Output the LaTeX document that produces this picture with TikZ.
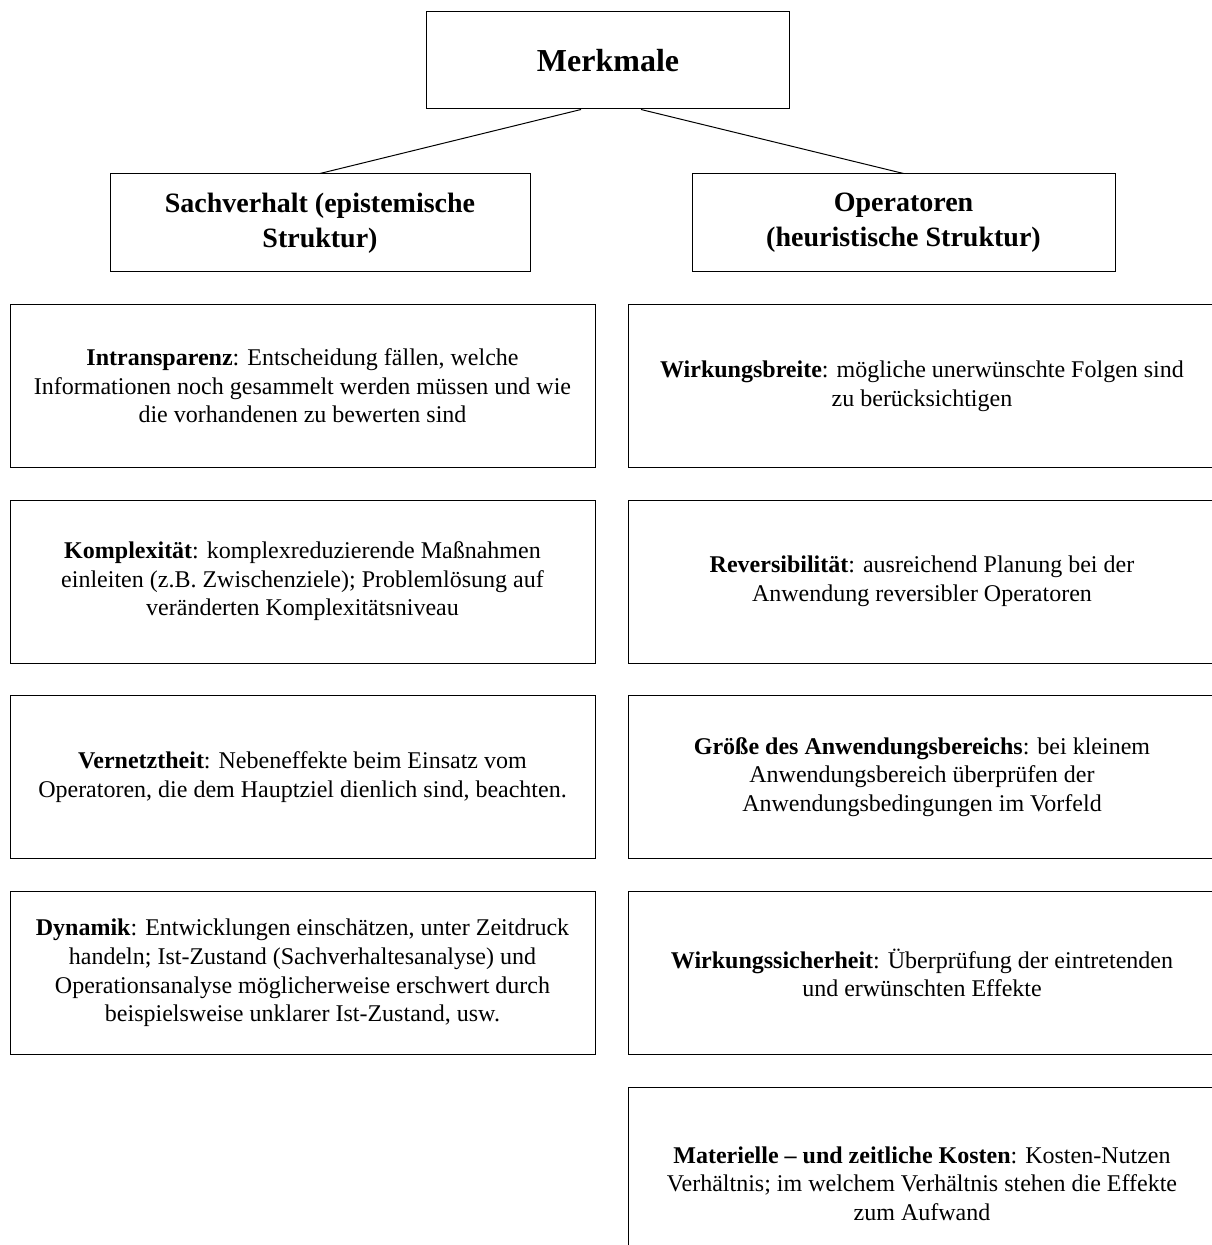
\documentclass[tikz,border=0pt]{standalone}
\usepackage{fontspec}
\setmainfont{Liberation Serif}
\usepackage{tikz}
\usetikzlibrary{positioning}
\tikzset{head/.style={rectangle,draw=black,line width=0.5pt,inner sep=0pt,minimum width=181.75pt,minimum height=48.5pt,font=\fontsize{16}{19}\selectfont\bfseries}}
\tikzset{sub/.style={rectangle,draw=black,line width=0.5pt,inner sep=0pt,align=center,minimum height=49pt,font=\fontsize{14}{17.5}\selectfont\bfseries}}
\tikzset{feat/.style={rectangle,draw=black,line width=0.5pt,inner sep=0pt,align=center,minimum width=292.5pt,minimum height=81.5pt,font=\fontsize{12}{14.3}\selectfont}}

\begin{document}
\begin{tikzpicture}[x=0.5pt,y=-0.5pt]
\useasboundingbox (0,0) rectangle (1211,1245);

 \node[head] (M) at (608, 60.5) {Merkmale};

 \node[sub, minimum width=210pt] (S) at (320, 223) {Sachverhalt (epistemische\\ Struktur)};
 \node[sub, minimum width=211.5pt] (O) at (903.5, 223) {Operatoren\\ (heuristische Struktur)};

 \draw[line width=0.5pt] ([xshift=-13.5pt]M.south) -- (S.north);
 \draw[line width=0.5pt] ([xshift=16.5pt]M.south) -- (O.north);

% left column
 \node[feat] (S1) at (302.5, 386) {\textbf{Intransparenz}: Entscheidung fällen, welche\\ Informationen noch gesammelt werden müssen und wie\\ die vorhandenen zu bewerten sind};
 \node[feat] (S2) at (302.5, 581.5) {\textbf{Komplexität}: komplexreduzierende Maßnahmen\\ einleiten (z.B. Zwischenziele); Problemlösung auf\\ veränderten Komplexitätsniveau};
 \node[feat] (S3) at (302.5, 777) {\textbf{Vernetztheit}: Nebeneffekte beim Einsatz vom\\ Operatoren, die dem Hauptziel dienlich sind, beachten.};
 \node[feat] (S4) at (302.5, 973) {\textbf{Dynamik}: Entwicklungen einschätzen, unter Zeitdruck\\ handeln; Ist-Zustand (Sachverhaltesanalyse) und\\ Operationsanalyse möglicherweise erschwert durch\\ beispielsweise unklarer Ist-Zustand, usw.};

% right column, cut off at the right edge
 \tikzset{feat/.append style={minimum width=294pt}}
 \node[feat] (O1) at (922, 386) {\textbf{Wirkungsbreite}: mögliche unerwünschte Folgen sind\\ zu berücksichtigen};
 \node[feat] (O2) at (922, 581.5) {\textbf{Reversibilität}: ausreichend Planung bei der\\ Anwendung reversibler Operatoren};
 \node[feat] (O3) at (922, 777) {\textbf{Größe des Anwendungsbereichs}: bei kleinem\\ Anwendungsbereich überprüfen der\\ Anwendungsbedingungen im Vorfeld};
 \node[feat] (O4) at (922, 973) {\textbf{Wirkungssicherheit}: Überprüfung der eintretenden\\ und erwünschten Effekte};
 \node[feat, minimum height=96.5pt] (O5) at (922, 1183.5) {\textbf{Materielle – und zeitliche Kosten}: Kosten-Nutzen\\ Verhältnis; im welchem Verhältnis stehen die Effekte\\ zum Aufwand};

\end{tikzpicture}
\end{document}
